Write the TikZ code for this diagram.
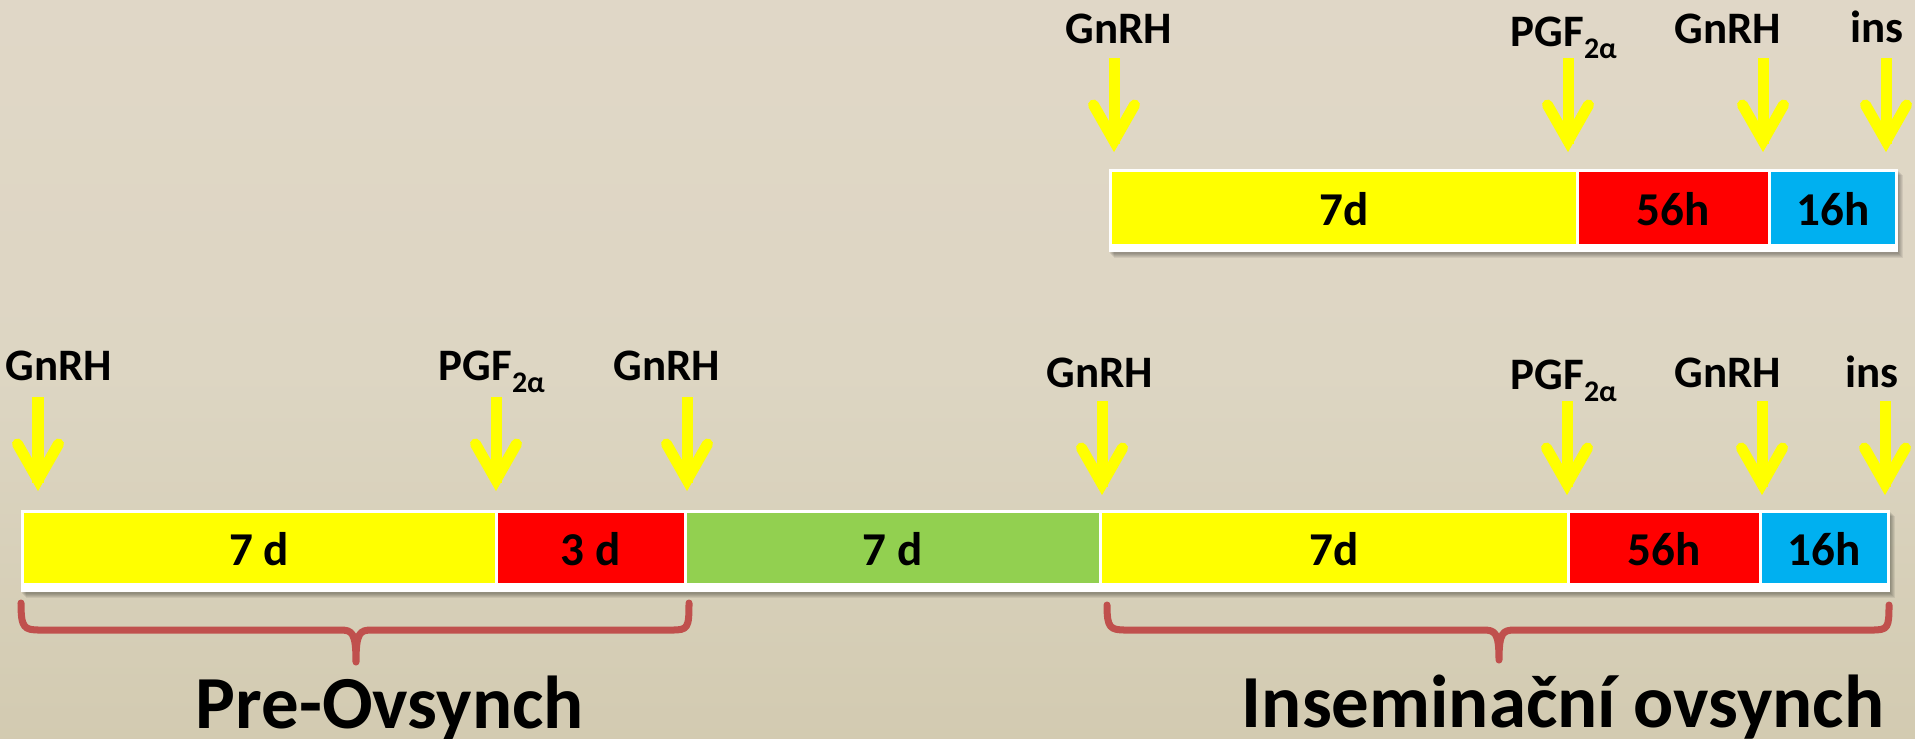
\documentclass[tikz,border=0pt]{standalone}
\usepackage{fontspec}
\setmainfont{Carlito}
\usetikzlibrary{calc,positioning}

\definecolor{bgtop}{RGB}{228,216,203}
\definecolor{bgmid}{RGB}{221,214,195}
\definecolor{bgbot}{RGB}{200,191,159}
\definecolor{dayyellow}{RGB}{255,255,0}
\definecolor{dayred}{RGB}{255,0,0}
\definecolor{daygreen}{RGB}{146,208,80}
\definecolor{dayblue}{RGB}{0,176,240}
\definecolor{bracered}{RGB}{192,80,77}

\pgfdeclareverticalshading{bgshade}{100bp}{color(0bp)=(bgbot); color(50bp)=(bgmid); color(100bp)=(bgtop)}

\newcommand{\pgfsub}{PGF\raisebox{-3.5pt}{\fontsize{8.5pt}{9pt}\selectfont 2α}}

\begin{document}
\begin{tikzpicture}[x=0.01cm, y=-0.01cm,
        cellnum/.style={font=\fontsize{13.4pt}{15pt}\selectfont\bfseries, inner sep=0, anchor=base},
        hormone/.style={font=\fontsize{12.8pt}{14pt}\selectfont\bfseries, inner sep=0, anchor=base},
        phase/.style={font=\fontsize{21.3pt}{24pt}\selectfont\bfseries, inner sep=0, anchor=base},
        dose/.style={line width=0.11cm, dayyellow},
        brace/.style={line width=0.07cm, bracered, line cap=round, line join=round},
        dosearrow/.pic={
            \draw[dose] (0,0) -- (0,86);
            \draw[dose, line cap=round, line join=miter] (-20.5,47) -- (0,83) -- (20.5,47);
        }]

    \useasboundingbox (0,0) rectangle (1915,738);
    \shade[shading=bgshade] (0,0) rectangle (1915,738);

    % short scheme (top)
    \coordinate (TL) at (1109,169);
    \coordinate (TR) at (1898,252);
    \foreach \s in {1,...,5}
        \fill[black, opacity=.07] ($(TL)+(\s,\s+1)$) rectangle ($(TR)+(\s,\s+1)$);
    \fill[white] (TL) rectangle (TR);
    \foreach \a/\b/\c/\t/\n in
    {1110.5/1577/dayyellow/7d/ty,
     1577/1769/dayred/56h/tr,
     1769/1896.5/dayblue/16h/tb
    }
    {
        \fill[\c] (\a+1.5,172) rectangle (\b-1.5,244);
        \node[cellnum] (\n) at ({(\a+\b)/2},225) {\t};
    };

    % full scheme (bottom)
    \coordinate (BL) at (20.5,510);
    \coordinate (BR) at (1889.5,592);
    \foreach \s in {1,...,5}
        \fill[black, opacity=.07] ($(BL)+(\s,\s+1)$) rectangle ($(BR)+(\s,\s+1)$);
    \fill[white] (BL) rectangle (BR);
    \foreach \a/\b/\c/\t/\n in
    {22/496/dayyellow/7 d/by1,
     496/685/dayred/3 d/br1,
     685/1100/daygreen/7 d/bg,
     1100/1568/dayyellow/7d/by2,
     1568/1760/dayred/56h/br2,
     1760/1888/dayblue/16h/bb
    }
    {
        \fill[\c] (\a+1.5,513) rectangle (\b-1.5,583);
        \node[cellnum] (\n) at ({(\a+\b)/2},565) {\t};
    };

    % injections
    \foreach \x/\y/\n in
    {1114/58/ta1, 1568/58/ta2, 1763/58/ta3, 1886/58/ta4,
     38/397/ba1, 496/397/ba2, 687/397/ba3,
     1102/401/ba4, 1567/401/ba5, 1762/401/ba6, 1885/401/ba7}
    {
        \coordinate (\n) at (\x,\y);
        \pic at (\n) {dosearrow};
    };

    \foreach \x/\y/\t/\n in
    {1119/43/GnRH/tl1, 1728/43/GnRH/tl3, 1877/42/ins/tl4,
     59/380/GnRH/bl1, 667/380/GnRH/bl3,
     1100/387/GnRH/bl4, 1728/387/GnRH/bl6, 1872/387/ins/bl7}
    {
        \node[hormone] (\n) at (\x,\y) {\t};
    };
    \node[hormone, anchor=base west] (tl2) at (1510,46) {\pgfsub};
    \node[hormone, anchor=base west] (bl2) at (438,380) {\pgfsub};
    \node[hormone, anchor=base west] (bl5) at (1510,389) {\pgfsub};

    % braces
    \draw[brace] (21,603) .. controls (21,628) and (24,630) .. (40,630) -- (340,630)
        .. controls (352,630) and (356,632) .. (356,662)
        .. controls (356,632) and (360,630) .. (372,630) -- (672,630)
        .. controls (688,630) and (689,628) .. (689,603);
    \draw[brace] (1107,605) .. controls (1107,628) and (1110,630) .. (1126,630) -- (1483,630)
        .. controls (1495,630) and (1499,632) .. (1499,660)
        .. controls (1499,632) and (1503,630) .. (1515,630) -- (1872,630)
        .. controls (1888,630) and (1889,628) .. (1889,605);

    \node[phase] (pre) at (390,728) {Pre-Ovsynch};
    \node[phase] (ins) at (1563,727) {Inseminační ovsynch};

\end{tikzpicture}
\end{document}
